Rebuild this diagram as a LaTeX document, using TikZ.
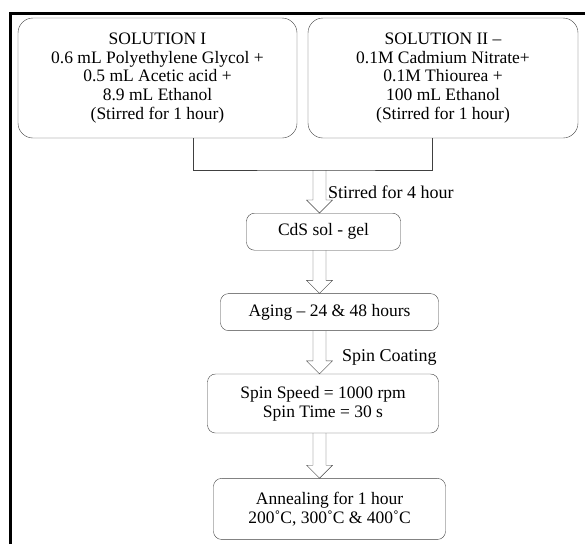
\documentclass[tikz,border=0pt]{standalone}
\usepackage{fontspec}
\setmainfont{Liberation Serif}
\usetikzlibrary{positioning,calc}

\tikzset{
  solbox/.style={draw=black!75, rounded corners=15pt, align=center,
    font=\fontsize{17.5}{18.7}\selectfont},
  stepbox/.style={draw=black!75, rounded corners=8pt, align=center,
    font=\fontsize{17.5}{19}\selectfont},
  lbl/.style={font=\fontsize{18}{19}\selectfont, anchor=west, inner sep=4pt},
  hollow/.style={draw=black!75, to path={let \p1=(\tikztostart), \p2=(\tikztotarget) in
    (\x1-6.5pt,\y1) -- (\x1-6.5pt,\y2+13pt) -- (\x1-13pt,\y2+13pt) -- (\x1,\y2)
    -- (\x1+13pt,\y2+13pt) -- (\x1+6.5pt,\y2+13pt) -- (\x1+6.5pt,\y1) \tikztonodes}}
}

\begin{document}
\begin{tikzpicture}[x=1pt, y=-1pt, node distance=43pt]
  \useasboundingbox (0,0) rectangle (585,544);
  % frame
  \draw[line width=3pt] (10.5,544) -- (10.5,13.5) -- (586,13.5);

  \node (sol1) [solbox, minimum width=279pt, minimum height=120pt] at (157.5,78)
    {SOLUTION I\\0.6 mL Polyethylene Glycol +\\0.5 mL Acetic acid +\\8.9 mL Ethanol\\(Stirred for 1 hour)};
  \node (sol2) [solbox, minimum width=270pt, minimum height=120pt] at (443,78)
    {SOLUTION II --\\0.1M Cadmium Nitrate+\\0.1M Thiourea +\\100 mL Ethanol\\(Stirred for 1 hour)};
  \coordinate (join) at (319.5,170);

  \node (cds) [stepbox, minimum width=154pt, minimum height=37pt, below=of join, xshift=4pt] {CdS sol - gel};
  \node (aging) [stepbox, minimum width=218pt, minimum height=37pt, below=of cds, xshift=6pt] {Aging -- 24 \& 48 hours};
  \node (spin) [stepbox, minimum width=231pt, minimum height=59pt, below=of aging, xshift=-6.5pt]
    {Spin Speed = 1000 rpm\\Spin Time = 30 s};
  \node (anneal) [stepbox, minimum width=232pt, minimum height=61pt, below=45pt of spin, xshift=6.5pt]
    {Annealing for 1 hour\\200˚C, 300˚C \& 400˚C};

  \draw[draw=black!75] ([xshift=35.5pt]sol1.south) |- (join) -| ([xshift=-11pt]sol2.south);
  \draw[hollow] (join) to node[lbl, pos=0.27, xshift=-2pt] {Stirred for 4 hour} (cds.north -| join);
  \draw[hollow] (cds.south -| join) to (aging.north -| join);
  \draw[hollow] (aging.south -| join) to node[lbl, pos=0.1, xshift=12pt] {Spin Coating} (spin.north -| join);
  \draw[hollow] (spin.south -| join) to (anneal.north -| join);
\end{tikzpicture}
\end{document}
